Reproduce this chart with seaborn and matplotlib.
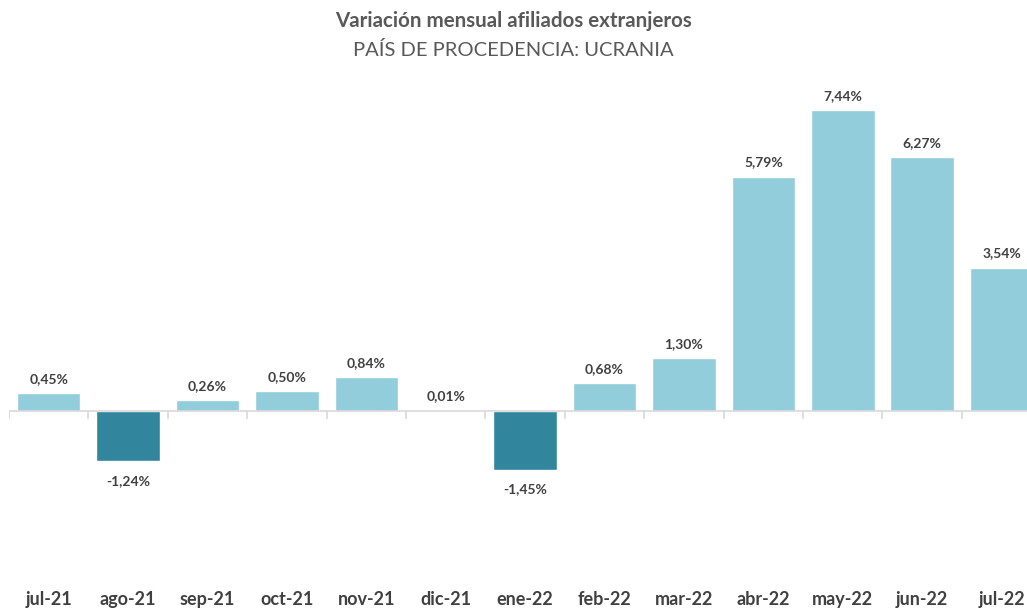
import pandas as pd
import matplotlib.pyplot as plt
import seaborn as sns

meses = ["jul-21", "ago-21", "sep-21", "oct-21", "nov-21", "dic-21", "ene-22",
         "feb-22", "mar-22", "abr-22", "may-22", "jun-22", "jul-22"]
variacion = [0.45, -1.24, 0.26, 0.50, 0.84, 0.01, -1.45,
             0.68, 1.30, 5.79, 7.44, 6.27, 3.54]

df = pd.DataFrame({"Mes": meses, "Variacion": variacion})
df["Signo"] = ["neg" if v < 0 else "pos" for v in df["Variacion"]]

sns.set_style("white")
plt.rcParams['font.family'] = ['Lato', 'DejaVu Sans']

fig = plt.figure(figsize=(10.27, 6.09), dpi=100)
ax = fig.add_axes([0.00876, 0.0394, 0.9912, 0.8374])

sns.barplot(data=df, x="Mes", y="Variacion", hue="Signo",
            palette={"pos": "#92CDDC", "neg": "#31859C"},
            dodge=False, legend=False, width=0.8, saturation=1, ax=ax)

ax.set_xlim(-0.5, 12.32)
ax.set_ylim(-4.296, 8.296)

# linea del eje en cero con marcas entre categorias
ax.axhline(0, color="#D9D9D9", lw=1.2, zorder=1)
ax.vlines([i - 0.5 for i in range(len(meses) + 1)], -0.2, 0, color="#D9D9D9", lw=1.2)

for i, v in enumerate(variacion):
    txt = f"{v:.2f}%".replace(".", ",")
    off = 0.2 if v >= 0 else -0.33
    ax.text(i, v + off, txt, ha="center", va="bottom" if v >= 0 else "top",
            fontsize=10, fontweight="bold", color="#404040")

ax.set_yticks([])
ax.set_xlabel("")
ax.set_ylabel("")
ax.tick_params(axis="x", length=0, pad=4, labelsize=13, labelcolor="#404040")
for lab in ax.get_xticklabels():
    lab.set_fontweight("bold")
sns.despine(ax=ax, left=True, bottom=True)

fig.text(0.5, 0.966, "Variación mensual afiliados extranjeros", ha="center", va="center",
         fontsize=14.8, fontweight="bold", color="#595959")
fig.text(0.5, 0.918, "PAÍS DE PROCEDENCIA: UCRANIA", ha="center", va="center",
         fontsize=14.5, color="#595959")

plt.savefig("out.png", dpi=100)
plt.close()
